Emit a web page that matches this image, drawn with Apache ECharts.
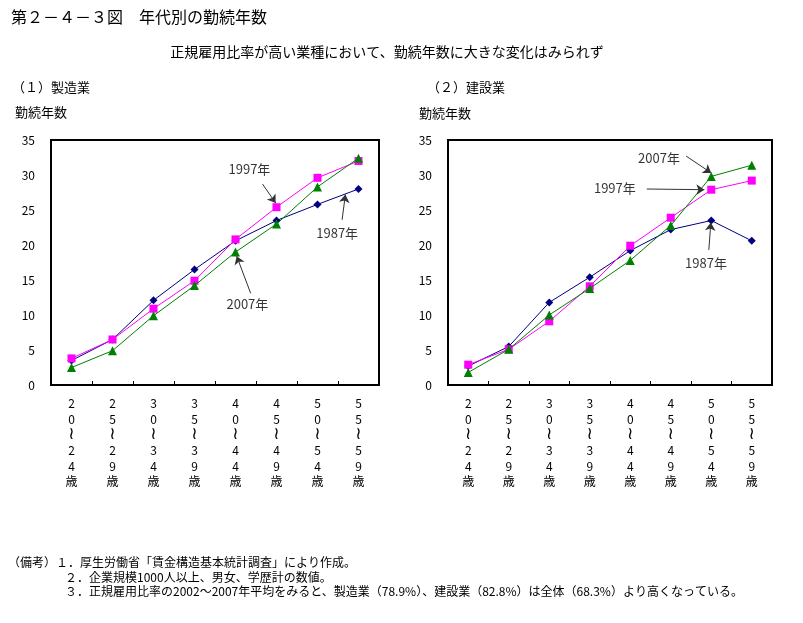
<!DOCTYPE html>
<html><head><meta charset="utf-8">
<script src="https://cdn.jsdelivr.net/npm/echarts@6/dist/echarts.min.js"></script>
<style>html,body{margin:0;padding:0;background:#fff}#c{width:803px;height:623px}</style>
</head><body><div id="c"></div>
<script>
// ---- data ----
const categories = ['20～24歳','25～29歳','30～34歳','35～39歳','40～44歳','45～49歳','50～54歳','55～59歳'];
const seriesNames = ['1987年','1997年','2007年'];
const mfg1987 = [3.5, 6.5, 12.1, 16.5, 20.6, 23.5, 25.8, 28.0];
const mfg1997 = [3.8, 6.5, 10.9, 14.9, 20.8, 25.4, 29.6, 32.0];
const mfg2007 = [2.5, 4.9, 9.9, 14.2, 19.0, 23.0, 28.3, 32.4];
const con1987 = [2.7, 5.5, 11.8, 15.4, 19.2, 22.2, 23.5, 20.6];
const con1997 = [2.9, 5.1, 9.1, 14.1, 19.9, 23.9, 27.9, 29.2];
const con2007 = [1.8, 5.1, 10.0, 13.8, 17.8, 22.8, 29.8, 31.4];
const yTicks = [0, 5, 10, 15, 20, 25, 30, 35];
const titleText = '第２－４－３図　年代別の勤続年数';
const subtitleText = '正規雇用比率が高い業種において、勤続年数に大きな変化はみられず';
const panelTitles = ['（１）製造業', '（２）建設業'];
const yAxisName = '勤続年数';
const notes = [
  '（備考）１．厚生労働省「賃金構造基本統計調査」により作成。',
  '２．企業規模1000人以上、男女、学歴計の数値。',
  '３．正規雇用比率の2002～2007年平均をみると、製造業（78.9%）、建設業（82.8%）は全体（68.3%）より高くなっている。'
];
// annotations (label position, arrow from, arrow to) in data coordinates [category index, value]
const annotations = [
  [{text:'1997年', at:[4.34, 30.9], from:[4.66, 28.7], to:[4.98, 26.0]},
   {text:'1987年', at:[6.48, 21.7], from:[6.60, 23.6], to:[6.68, 27.2]},
   {text:'2007年', at:[4.29, 11.6], from:[4.37, 13.1], to:[4.03, 18.4]}],
  [{text:'2007年', at:[4.71, 32.4], from:[5.38, 32.7], to:[6.00, 30.3]},
   {text:'1997年', at:[3.62, 28.1], from:[4.41, 28.0], to:[5.83, 27.9]},
   {text:'1987年', at:[5.87, 17.4], from:[5.94, 19.3], to:[5.99, 23.2]}]
];

const FONT = '"Noto Sans CJK JP", sans-serif';
const colors = ['#000080', '#FF00FF', '#008000'];
const symbols = ['diamond', 'rect', 'triangle'];
const symbolSizes = [8, 8, 9];

const chart = echarts.init(document.getElementById('c'));
const grids = [
  {left: 51, top: 140, width: 328, height: 245},
  {left: 448, top: 140, width: 324, height: 245}
];
const xAxes = [], yAxes = [], series = [];
const data = [[mfg1987, mfg1997, mfg2007], [con1987, con1997, con2007]];
grids.forEach((g, gi) => {
  g.show = true; g.borderColor = '#000'; g.borderWidth = 2; g.backgroundColor = 'transparent';
  xAxes.push({
    type: 'category', gridIndex: gi, data: categories, boundaryGap: true,
    axisLine: {show: false},
    axisTick: {show: true, inside: true, length: 4, lineStyle: {color: '#000', width: 1}},
    axisLabel: {
      interval: 0, margin: 11, color: '#000', fontSize: 12, fontFamily: FONT, lineHeight: 15.6,
      formatter: v => v.split('').map(ch => ch === '～' ? '{w|≀}' : ch).join('\n'),
      rich: {w: {fontFamily: '"DejaVu Sans", sans-serif', fontSize: 17, lineHeight: 15.6, color: '#000'}}
    }
  });
  xAxes.push({type: 'value', gridIndex: gi, min: -0.5, max: 7.5, show: false});
  yAxes.push({
    type: 'value', gridIndex: gi, min: 0, max: 35, interval: 5,
    axisLine: {show: false}, axisTick: {show: false}, splitLine: {show: false},
    axisLabel: {color: '#000', fontSize: 12, fontFamily: FONT, margin: 16,
      customValues: yTicks}
  });
  data[gi].forEach((arr, si) => {
    series.push({
      type: 'line', name: seriesNames[si], xAxisIndex: gi * 2, yAxisIndex: gi,
      data: arr, symbol: symbols[si], symbolSize: symbolSizes[si], showSymbol: true,
      lineStyle: {color: colors[si], width: 1}, itemStyle: {color: colors[si]},
      animation: false, z: 3 + si
    });
  });
  series.push({
    type: 'lines', coordinateSystem: 'cartesian2d', xAxisIndex: gi * 2 + 1, yAxisIndex: gi,
    symbol: ['none', 'arrow'], symbolSize: 8,
    lineStyle: {color: '#333', width: 1, opacity: 1},
    data: annotations[gi].map(a => ({coords: [a.from, a.to]})),
    animation: false, z: 10
  });
  series.push({
    type: 'scatter', xAxisIndex: gi * 2 + 1, yAxisIndex: gi, symbolSize: 0,
    data: annotations[gi].map(a => ({value: a.at, name: a.text})),
    label: {show: true, position: 'inside', formatter: '{b}', color: '#000', fontSize: 13, fontFamily: FONT},
    animation: false, z: 10
  });
});

const txt = (x, y, text, size, extra) => Object.assign({
  type: 'text', x: x, y: y,
  style: {text: text, fill: '#000', font: size + 'px ' + FONT, textVerticalAlign: 'middle'}
}, extra || {});

chart.setOption({
  backgroundColor: '#fff',
  animation: false,
  grid: grids, xAxis: xAxes, yAxis: yAxes, series: series,
  graphic: [
    txt(11, 17, titleText, 16),
    txt(387, 52, subtitleText, 14, {style: {text: subtitleText, fill: '#000', font: '14px ' + FONT, textAlign: 'center', textVerticalAlign: 'middle'}}),
    txt(12, 87, panelTitles[0], 13),
    txt(427, 87, panelTitles[1], 13),
    txt(15, 112, yAxisName, 13),
    txt(419, 113, yAxisName, 13),
    txt(8, 562, notes[0], 12),
    txt(65, 577, notes[1], 12),
    txt(65, 591, notes[2], 12)
  ]
});
</script></body></html>
